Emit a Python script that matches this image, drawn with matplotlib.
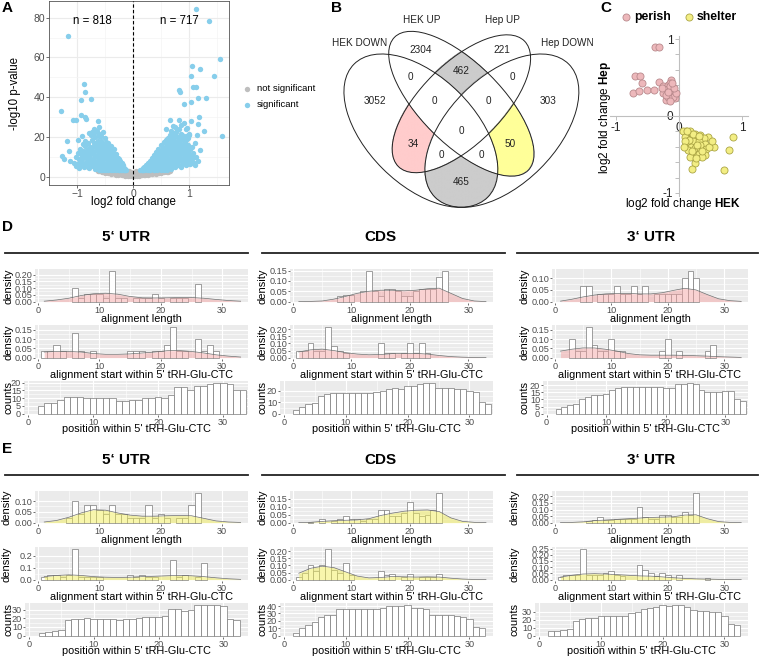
import numpy as np
import matplotlib
matplotlib.use("Agg")
import matplotlib.pyplot as plt
from matplotlib.patches import Ellipse
from matplotlib.lines import Line2D
from matplotlib.colors import to_rgba

plt.rcParams['font.family'] = ['Liberation Sans', 'DejaVu Sans']
plt.rcParams['mathtext.fontset'] = 'custom'
plt.rcParams['mathtext.rm'] = 'Liberation Sans'
plt.rcParams['mathtext.bf'] = 'Liberation Sans:bold'

# ---------------- data ----------------
# A: volcano plot (log2 fold change, -log10 p)
volcano_sig = np.array([
    (1.12, 84.3), (1.36, 78.1), (-1.17, 70.9), (1.55, 59.1), (1.05, 55.8), (1.20, 54.3),
    (1.45, 50.9), (1.03, 50.8), (-0.88, 46.6), (1.07, 45.1), (1.13, 45.1), (0.82, 43.7),
    (-0.86, 42.4), (0.83, 42.4), (1.16, 39.5), (1.30, 39.5), (-0.75, 39.2), (-0.93, 38.4),
    (1.03, 37.4), (0.90, 36.5), (-1.29, 32.8), (-0.93, 30.8), (-0.85, 30.0), (1.18, 30.0),
    (-0.84, 29.1), (-1.07, 28.3), (-1.02, 28.3), (1.04, 28.1), (0.66, 28.3), (0.81, 28.6),
    (-0.63, 27.8), (1.15, 26.6), (0.72, 25.6), (-0.69, 24.0), (0.59, 24.1), (0.96, 24.5),
    (1.26, 23.1), (-0.78, 21.9), (-0.73, 22.3), (-0.61, 20.3), (1.58, 20.6), (-0.92, 20.6),
    (0.84, 20.3), (1.14, 21.1), (0.99, 21.4), (-0.99, 18.6), (-1.18, 17.8), (-1.15, 12.7),
    (-1.27, 10.2), (-1.23, 8.9), (-1.12, 7.7), (-1.02, 5.5), (1.11, 6.0), (0.89, 15.2),
    (1.05, 10.2), (1.20, 13.6), (0.96, 9.4),
    # left cloud
    (-1.00, 6.5), (-0.97, 9.0), (-0.95, 5.5), (-0.93, 11.5), (-0.92, 7.5), (-0.90, 13.0),
    (-0.89, 9.5), (-0.87, 6.0), (-0.86, 15.5), (-0.85, 11.0), (-0.83, 8.0), (-0.82, 13.5),
    (-0.80, 17.0), (-0.80, 5.0), (-0.78, 10.0), (-0.77, 15.0), (-0.76, 7.0), (-0.74, 12.5),
    (-0.73, 18.5), (-0.72, 9.0), (-0.71, 5.5), (-0.70, 15.5), (-0.69, 11.0), (-0.68, 20.0),
    (-0.67, 7.5), (-0.66, 13.5), (-0.65, 17.5), (-0.64, 10.0), (-0.63, 4.5), (-0.62, 15.0),
    (-0.61, 21.5), (-0.60, 8.0), (-0.59, 12.0), (-0.58, 18.0), (-0.57, 5.5), (-0.56, 14.5),
    (-0.55, 10.5), (-0.54, 16.5), (-0.53, 7.0), (-0.52, 12.5), (-0.51, 19.5), (-0.50, 4.0),
    (-0.49, 9.5), (-0.48, 15.0), (-0.47, 6.0), (-0.46, 11.5), (-0.45, 17.0), (-0.44, 8.0),
    (-0.43, 13.5), (-0.42, 4.5), (-0.41, 10.0), (-0.40, 15.5), (-0.39, 6.5), (-0.38, 12.0),
    (-0.37, 8.5), (-0.36, 3.8), (-0.35, 10.5), (-0.34, 14.0), (-0.33, 6.0), (-0.32, 9.0),
    (-0.31, 4.2), (-0.30, 11.5), (-0.29, 7.0), (-0.28, 5.0), (-0.27, 9.5), (-0.26, 3.5),
    (-0.25, 6.5), (-0.24, 8.0), (-0.23, 4.5), (-0.22, 6.0), (-0.21, 3.4), (-0.20, 5.0),
    (-0.19, 7.0), (-0.18, 3.8), (-0.17, 4.6), (-0.16, 3.3), (-0.15, 4.0), (-0.13, 3.2),
    (-0.55, 3.5), (-0.45, 3.3), (-0.65, 4.5), (-0.60, 25.0), (-0.70, 22.0), (-0.75, 21.0),
    (-0.64, 23.0), (-0.57, 20.5), (-0.53, 22.5), (-0.62, 18.0), (-0.85, 18.0), (-0.90, 16.5),
    (-0.95, 14.0), (-1.02, 10.0), (-0.98, 12.0), (-1.05, 7.0),
    (-0.97, 4.5), (-0.94, 8.0), (-0.91, 10.5), (-0.88, 4.8), (-0.87, 12.0), (-0.84, 6.5),
    (-0.83, 9.5), (-0.81, 12.0), (-0.79, 7.5), (-0.78, 4.2), (-0.76, 11.5), (-0.75, 13.8),
    (-0.74, 5.8), (-0.73, 8.5), (-0.71, 12.5), (-0.70, 6.5), (-0.69, 17.0), (-0.68, 4.0),
    (-0.67, 10.5), (-0.66, 15.5), (-0.64, 7.0), (-0.63, 12.5), (-0.61, 9.5), (-0.60, 13.5),
    (-0.60, 16.5), (-0.59, 5.0), (-0.58, 10.0), (-0.57, 13.0), (-0.56, 7.5), (-0.55, 16.0),
    (-0.54, 4.5), (-0.53, 11.0), (-0.52, 9.0), (-0.51, 14.5), (-0.50, 6.5), (-0.49, 12.0),
    (-0.48, 17.5), (-0.47, 9.0), (-0.46, 4.2), (-0.45, 13.0), (-0.44, 10.5), (-0.43, 6.5),
    (-0.42, 15.0), (-0.41, 8.0), (-0.40, 11.0), (-0.39, 4.0), (-0.38, 13.5), (-0.37, 6.0),
    (-0.36, 10.0), (-0.35, 8.0), (-0.34, 5.0), (-0.33, 11.5), (-0.32, 7.0), (-0.31, 9.5),
    (-0.30, 5.5), (-0.29, 4.0), (-0.28, 8.0), (-0.27, 6.0), (-0.26, 9.0), (-0.25, 4.8),
    (-0.24, 6.0), (-0.23, 7.0), (-0.22, 4.0), (-0.21, 5.5), (-0.20, 3.5), (-0.19, 4.5),
    (-0.18, 5.8), (-0.17, 3.6), (-0.14, 3.5), (-0.52, 3.3), (-0.48, 3.4), (-0.40, 3.2),
    (-0.35, 3.1), (-0.30, 3.2), (-0.25, 3.1), (-0.60, 3.6), (-0.58, 3.2), (-0.62, 6.5),
    (-0.66, 5.5), (-0.72, 7.0),
    # right cloud
    (0.13, 3.2), (0.15, 3.6), (0.17, 4.2), (0.19, 3.4), (0.20, 5.0), (0.22, 3.8), (0.23, 6.0),
    (0.25, 4.5), (0.26, 7.0), (0.28, 3.5), (0.29, 5.5), (0.30, 8.0), (0.31, 4.0), (0.32, 6.5),
    (0.33, 9.5), (0.35, 5.0), (0.36, 7.5), (0.37, 11.0), (0.38, 3.6), (0.39, 9.0), (0.40, 6.0),
    (0.41, 12.5), (0.42, 4.5), (0.43, 8.0), (0.44, 10.5), (0.45, 14.0), (0.46, 6.5), (0.47, 12.0),
    (0.48, 3.8), (0.49, 9.5), (0.50, 16.0), (0.51, 7.5), (0.52, 13.0), (0.53, 5.0), (0.54, 11.0),
    (0.55, 17.5), (0.56, 8.5), (0.57, 14.5), (0.58, 4.0), (0.59, 10.5), (0.60, 19.0), (0.61, 6.5),
    (0.62, 13.0), (0.63, 16.5), (0.64, 9.0), (0.65, 21.0), (0.66, 4.5), (0.67, 12.0), (0.68, 18.0),
    (0.69, 7.5), (0.70, 14.5), (0.71, 22.0), (0.72, 10.0), (0.73, 5.5), (0.74, 17.0), (0.75, 12.5),
    (0.76, 20.5), (0.77, 8.0), (0.78, 15.0), (0.79, 23.5), (0.80, 6.0), (0.81, 11.0), (0.82, 18.5),
    (0.83, 14.0), (0.84, 9.0), (0.85, 21.5), (0.86, 5.5), (0.87, 16.0), (0.88, 12.0), (0.89, 19.0),
    (0.90, 7.5), (0.91, 14.5), (0.92, 10.0), (0.93, 17.0), (0.94, 6.0), (0.95, 12.5), (0.96, 15.0),
    (0.97, 8.5), (0.98, 19.5), (1.00, 11.0), (1.01, 6.5), (1.02, 14.0), (1.04, 9.0), (1.06, 12.0),
    (1.08, 7.0), (1.10, 17.0), (1.12, 10.0), (1.15, 8.0), (0.75, 25.0), (0.85, 26.0), (0.95, 24.0),
    (0.68, 23.0), (0.90, 27.0), (1.00, 21.0), (0.62, 19.5),
    (0.16, 3.1), (0.18, 3.6), (0.21, 4.2), (0.24, 3.3), (0.24, 5.2), (0.27, 4.0), (0.27, 6.2),
    (0.30, 3.4), (0.30, 5.8), (0.32, 7.8), (0.34, 4.2), (0.34, 6.0), (0.36, 9.2), (0.37, 3.3),
    (0.38, 5.5), (0.40, 7.5), (0.40, 10.5), (0.42, 3.3), (0.42, 6.5), (0.43, 12.0), (0.44, 8.5),
    (0.46, 4.5), (0.46, 10.0), (0.48, 6.5), (0.48, 12.8), (0.50, 3.4), (0.50, 8.8), (0.51, 11.0),
    (0.52, 5.5), (0.53, 14.5), (0.54, 7.5), (0.55, 3.5), (0.55, 9.5), (0.56, 12.5), (0.57, 5.8),
    (0.58, 15.5), (0.59, 8.0), (0.60, 3.6), (0.60, 11.5), (0.61, 13.5), (0.62, 4.8), (0.62, 9.0),
    (0.63, 18.0), (0.64, 6.5), (0.65, 11.5), (0.66, 14.5), (0.67, 8.5), (0.68, 4.0), (0.68, 16.0),
    (0.69, 11.0), (0.70, 6.0), (0.71, 13.0), (0.72, 19.0), (0.72, 8.0), (0.73, 15.0), (0.74, 10.5),
    (0.75, 5.0), (0.76, 13.0), (0.77, 17.5), (0.78, 9.5), (0.79, 6.5), (0.80, 12.5), (0.80, 19.5),
    (0.81, 15.5), (0.82, 8.0), (0.83, 11.0), (0.84, 17.0), (0.85, 5.0), (0.86, 12.5), (0.86, 19.0),
    (0.87, 9.0), (0.88, 14.5), (0.89, 7.0), (0.90, 16.5), (0.91, 11.5), (0.92, 8.5), (0.93, 13.0),
    (0.94, 18.5), (0.95, 9.5), (0.96, 6.5), (0.97, 12.5), (0.98, 16.0), (0.99, 9.0), (1.00, 14.5),
    (1.02, 10.5), (1.03, 7.5), (1.05, 15.0), (1.07, 9.5), (0.70, 20.5), (0.65, 17.5), (0.58, 18.5),
    (0.76, 22.5), (0.88, 21.0), (0.95, 20.5), (0.82, 24.0),
])
volcano_ns = np.array([
    (-0.62, 2.7), (-0.60, 2.6), (-0.58, 2.7), (-0.56, 2.4), (-0.52, 2.6), (-0.50, 2.0),
    (-0.48, 2.5), (-0.47, 2.7), (-0.45, 1.9), (-0.44, 2.6), (-0.41, 2.2), (-0.40, 1.5),
    (-0.38, 2.6), (-0.36, 1.8), (-0.34, 2.4), (-0.33, 1.2), (-0.31, 2.0), (-0.30, 2.6),
    (-0.30, 0.9), (-0.28, 1.5), (-0.27, 0.9), (-0.26, 2.3), (-0.24, 1.8), (-0.23, 1.1),
    (-0.22, 2.6), (-0.20, 0.7), (-0.19, 1.5), (-0.18, 2.2), (-0.16, 1.0), (-0.15, 2.5),
    (-0.14, 0.5), (-0.13, 1.7), (-0.12, 2.6), (-0.11, 1.2), (-0.10, 0.4), (-0.09, 2.0),
    (-0.08, 0.9), (-0.07, 2.6), (-0.06, 0.3), (-0.05, 1.4), (-0.04, 0.6), (-0.03, 2.2),
    (-0.02, 0.2), (-0.01, 1.0), (0.00, 0.1), (0.01, 0.8), (0.02, 2.4), (0.03, 0.3),
    (0.04, 1.5), (0.05, 0.6), (0.06, 2.6), (0.07, 0.4), (0.08, 1.2), (0.09, 2.0),
    (0.10, 0.5), (0.11, 1.6), (0.12, 2.6), (0.13, 0.8), (0.14, 2.1), (0.15, 0.6),
    (0.16, 1.4), (0.18, 2.6), (0.19, 1.0), (0.20, 1.9), (0.22, 0.9), (0.23, 2.6),
    (0.24, 1.5), (0.26, 2.2), (0.27, 1.0), (0.29, 2.6), (0.30, 1.6), (0.32, 2.0),
    (0.33, 1.3), (0.35, 2.6), (0.37, 1.8), (0.39, 2.4), (0.40, 1.5), (0.42, 2.0),
    (0.44, 2.6), (0.46, 1.8), (0.48, 2.4), (0.50, 2.0), (0.52, 2.6), (0.55, 2.2),
    (0.55, 2.7), (0.58, 2.6), (0.60, 2.3), (0.62, 2.5), (0.65, 2.6),
])
volcano_n = ["n = 818", "n = 717"]

# B: four-set Venn
venn_sets = ["HEK DOWN", "HEK UP", "Hep UP", "Hep DOWN"]
venn_counts = {
    (1, 0, 0, 0): 3052, (0, 1, 0, 0): 2304, (0, 0, 1, 0): 221, (0, 0, 0, 1): 303,
    (1, 1, 0, 0): 0, (0, 1, 1, 0): 462, (0, 0, 1, 1): 0, (1, 0, 1, 0): 34,
    (0, 1, 0, 1): 50, (1, 0, 0, 1): 465, (1, 1, 1, 0): 0, (0, 1, 1, 1): 0,
    (1, 0, 1, 1): 0, (1, 1, 0, 1): 0, (1, 1, 1, 1): 0,
}

# C: perish / shelter genes (log2 FC HEK, log2 FC Hep)
perish_hek = [-0.38, -0.32, -0.70, -0.62, -0.58, -0.73, -0.63, -0.50, -0.40, -0.32, -0.26, -0.18,
              -0.12, -0.15, -0.22, -0.17, -0.12, -0.09, -0.14, -0.06, -0.20, -0.13, -0.07, -0.25,
              -0.10, -0.17, -0.05, -0.14, -0.21, -0.08, -0.18, -0.11, -0.27, -0.15]
perish_hep = [0.90, 0.89, 0.52, 0.52, 0.43, 0.30, 0.33, 0.34, 0.34, 0.44, 0.39, 0.40,
              0.47, 0.43, 0.34, 0.35, 0.37, 0.32, 0.28, 0.27, 0.21, 0.22, 0.23, 0.30,
              0.25, 0.25, 0.30, 0.39, 0.27, 0.36, 0.31, 0.43, 0.36, 0.19]
shelter_hek = [0.11, 0.17, 0.25, 0.34, 0.46, 0.86, 0.12, 0.20, 0.28, 0.39, 0.13, 0.22, 0.31,
               0.41, 0.56, 0.13, 0.19, 0.25, 0.33, 0.43, 0.79, 0.15, 0.23, 0.32, 0.41, 0.25,
               0.21, 0.72, 0.07, 0.09, 0.16, 0.34, 0.28, 0.09, 0.47, 0.37, 0.17, 0.23, 0.31,
               0.12, 0.08, 0.36, 0.52, 0.20, 0.27]
shelter_hep = [-0.19, -0.20, -0.23, -0.25, -0.27, -0.27, -0.25, -0.27, -0.29, -0.29, -0.30, -0.33,
               -0.33, -0.36, -0.40, -0.37, -0.40, -0.42, -0.42, -0.43, -0.44, -0.44, -0.50, -0.50,
               -0.51, -0.61, -0.69, -0.70, -0.20, -0.27, -0.31, -0.38, -0.38, -0.33, -0.40, -0.53,
               -0.53, -0.23, -0.26, -0.20, -0.40, -0.46, -0.33, -0.45, -0.55]

# D/E: histograms (density per position 1..33), density curves (x = 1,3,...,33), counts
regions = ["5\u2018 UTR", "CDS", "3\u2018 UTR"]
hist_pos = np.arange(1, 34)
kde_pos = np.arange(1, 34, 2)

D_len = [
    [0, 0, 0, 0, 0, .10, .03, .06, .06, .06, .03, .23, .03, .03, 0, .03, .03, .03, .06, .03, 0, .03, .03, .03, 0, .13, 0, 0, 0, 0, 0, 0, 0],
    [0, 0, 0, 0, 0, 0, 0, .025, .03, .03, 0, .05, .15, .05, .025, .06, .06, .05, .025, .025, .05, .06, .06, .06, .12, .15, 0, 0, 0, 0, 0, 0, 0],
    [0, 0, 0, 0, .067, .067, 0, .033, .033, .033, .067, .033, .033, .067, .033, .067, 0, .033, .033, .033, .033, .033, .10, .133, .10, 0, 0, 0, 0, 0, 0, 0, 0],
]
D_start = [
    [.033, .033, .067, .033, 0, .133, .033, 0, .033, 0, 0, 0, 0, 0, .033, .033, .033, 0, .033, .033, .067, .167, .033, .033, 0, .10, .033, .067, .033, 0, 0, 0, 0],
    [.05, .05, .10, .05, .05, .22, .08, .05, .03, 0, 0, 0, 0, 0, .10, .03, .03, 0, .03, .10, .03, .10, .03, 0, 0, 0, 0, 0, 0, 0, 0, 0, 0],
    [0, 0, .10, .033, .033, .167, .067, .033, .033, .10, .033, .033, 0, 0, 0, 0, 0, 0, .033, .10, 0, .033, 0, 0, 0, 0, .033, .067, 0, 0, 0, 0, 0],
]
D_len_kde = [
    [.003, .012, .025, .045, .058, .062, .055, .038, .028, .027, .028, .030, .030, .025, .016, .008, .003],
    [0, .001, .003, .012, .025, .040, .050, .055, .055, .052, .055, .062, .065, .040, .015, .003, 0],
    [.002, .010, .020, .028, .033, .035, .035, .033, .033, .038, .048, .057, .050, .030, .012, .004, .001],
]
D_start_kde = [
    [.030, .033, .033, .030, .022, .018, .018, .020, .025, .030, .037, .038, .033, .025, .015, .008, .003],
    [.040, .055, .060, .050, .035, .025, .020, .022, .028, .030, .030, .025, .015, .007, .003, .001, 0],
    [.035, .045, .052, .052, .045, .035, .022, .015, .013, .013, .013, .012, .010, .008, .005, .003, .001],
]
D_counts = [
    [5, 7, 7, 9, 11, 11, 11, 10, 10, 10, 10, 10, 8, 8, 9, 9, 10, 10, 11, 10, 12, 17, 17, 15, 18, 18, 19, 20, 20, 19, 15, 15],
    [3, 6, 8, 9, 15, 17, 18, 18, 18, 18, 18, 18, 18, 19, 20, 21, 22, 21, 24, 24, 26, 27, 27, 22, 22, 22, 21, 21, 20, 19, 10, 8],
    [3, 5, 6, 7, 10, 12, 13, 13, 14, 17, 18, 19, 19, 19, 19, 19, 19, 19, 18, 18, 21, 21, 22, 21, 17, 15, 15, 15, 16, 16, 10, 9],
]
E_len = [
    [0, 0, 0, 0, .02, .10, .04, .08, .08, .06, .04, .08, .04, .04, .02, .02, .02, .08, .02, .04, .02, 0, .02, .02, .08, .14, 0, 0, 0, 0, 0, 0, 0],
    [0, 0, .005, 0, .02, 0, .01, .02, .04, .02, .02, .01, .02, .02, .08, .08, .04, .04, .06, .13, .06, .04, .05, .08, .19, 0, 0, 0, 0, 0, 0, 0, 0],
    [0, 0, 0, 0, 0, .01, .02, .04, .02, .02, .03, .03, .03, .03, .12, .04, .03, .03, .06, .06, .04, .04, .08, .06, .23, 0, 0, 0, 0, 0, 0, 0, 0],
]
E_start = [
    [.02, .04, .04, .02, .04, .26, .02, .02, .02, .02, 0, 0, 0, 0, .04, .02, .04, .02, .02, 0, 0, .16, .02, .04, 0, .02, .14, 0, 0, 0, 0, 0, 0],
    [.02, .05, .10, .06, .10, .22, .07, .05, .12, .03, 0, 0, 0, 0, .06, .03, .04, 0, .02, .04, 0, .02, .02, .02, .04, 0, 0, 0, 0, 0, 0, 0, 0],
    [.02, .04, .04, .04, .25, .04, .04, .04, .05, .07, .04, .03, 0, 0, .12, .08, .05, .03, .05, .04, 0, .04, 0, 0, 0, 0, .01, 0, 0, 0, 0, 0, 0],
]
E_len_kde = [
    [.003, .010, .025, .045, .060, .058, .045, .035, .030, .030, .032, .033, .032, .020, .008, .003, .001],
    [0, .002, .008, .012, .015, .017, .025, .045, .060, .072, .078, .080, .070, .030, .008, .002, 0],
    [0, .002, .006, .015, .020, .025, .030, .035, .040, .042, .045, .058, .060, .030, .008, .002, 0],
]
E_start_kde = [
    [.025, .035, .040, .035, .025, .020, .018, .020, .025, .028, .032, .035, .032, .025, .015, .007, .002],
    [.045, .080, .095, .085, .055, .025, .012, .015, .022, .020, .018, .020, .018, .010, .004, .001, 0],
    [.020, .035, .045, .048, .045, .040, .035, .030, .028, .022, .015, .010, .006, .004, .002, .001, 0],
]
E_counts = [
    [3, 4, 5, 6, 18, 19, 19, 20, 19, 19, 19, 19, 18, 19, 19, 20, 21, 22, 21, 23, 31, 31, 29, 30, 35, 36, 36, 36, 34, 19, 18],
    [4, 10, 15, 19, 25, 28, 28, 36, 36, 36, 36, 36, 36, 36, 38, 40, 40, 40, 42, 38, 38, 36, 28, 28, 28, 28, 27, 25, 22, 12, 10],
    [6, 6, 7, 8, 18, 21, 22, 22, 24, 25, 25, 25, 25, 28, 30, 34, 35, 36, 38, 37, 39, 39, 36, 32, 31, 31, 30, 30, 25, 14, 13],
]

# ---------------- figure ----------------
W, H = 760, 659
fig = plt.figure(figsize=(7.6, 6.59), dpi=100)


def px_axes(x0, y0, x1, y1):
    return fig.add_axes([x0 / W, 1 - y1 / H, (x1 - x0) / W, (y1 - y0) / H])


def px_text(x, y, s, **kw):
    kw.setdefault('ha', 'center')
    kw.setdefault('va', 'center')
    kw.setdefault('zorder', 5)
    fig.text(x / W, 1 - y / H, s, **kw)


def px_hline(x0, x1, y, **kw):
    fig.add_artist(Line2D([x0 / W, x1 / W], [1 - y / H, 1 - y / H], transform=fig.transFigure, **kw))


for lab, x, y in [('A', 2, 8), ('B', 331, 8), ('C', 600, 8), ('D', 2, 227), ('E', 2, 449)]:
    px_text(x, y, lab, ha='left', fontsize=11, fontweight='bold')

# ---- A ----
axA = px_axes(49, 1, 229, 185)
axA.scatter(volcano_ns[:, 0], volcano_ns[:, 1], s=15, color='#BEBEBE', lw=0, zorder=2,
            label='not significant')
axA.scatter(volcano_sig[:, 0], volcano_sig[:, 1], s=15, color='#87CEEB', lw=0, zorder=3,
            label='significant')
axA.axvline(0, color='black', ls=(0, (3, 2)), lw=0.8, zorder=4)
axA.set_xlim(-1.5, 1.71)
axA.set_ylim(-4.2, 88.4)
axA.set_xticks([-1, 0, 1])
axA.set_yticks([0, 20, 40, 60, 80])
axA.set_xticks([-1.5, -0.5, 0.5, 1.5], minor=True)
axA.set_yticks([10, 30, 50, 70], minor=True)
axA.grid(which='major', color='#EBEBEB', lw=0.8, zorder=0)
axA.grid(which='minor', color='#F4F4F4', lw=0.5, zorder=0)
axA.set_axisbelow(True)
axA.tick_params(which='minor', length=0)
axA.tick_params(which='major', labelsize=7.5, labelcolor='#4D4D4D', color='#333333',
                length=2, width=0.5, pad=0.8)
for sp in axA.spines.values():
    sp.set_color('#555555')
    sp.set_linewidth(0.6)
axA.text(-0.73, 78.5, volcano_n[0], ha='center', va='center', fontsize=8.3)
axA.text(0.82, 78.5, volcano_n[1], ha='center', va='center', fontsize=8.3)
px_text(15, 93, '-log10 p-value', rotation=90, fontsize=8.3)
px_text(133, 202, 'log2 fold change', fontsize=8.3)
axA.legend(loc='center left', bbox_to_anchor=(1.08, 0.48), frameon=False, fontsize=6.8,
           handlelength=0.8, handletextpad=0.6, borderpad=0, borderaxespad=0,
           labelspacing=0.7, markerscale=1.0)

# ---- B: Venn ----
venn_ellipses = [(0.35, 0.47, 0.35, 0.20, 135), (0.50, 0.57, 0.35, 0.15, 135),
                 (0.50, 0.57, 0.33, 0.15, 45), (0.65, 0.47, 0.35, 0.20, 45)]
venn_fill = {(0, 1, 1, 0): '#CCCCCC', (1, 0, 0, 1): '#CCCCCC',
             (1, 0, 1, 0): '#FFCCCC', (0, 1, 0, 1): '#FFFF99'}
venn_label_xy = {
    (1, 0, 0, 0): (0.18, 0.58), (0, 1, 0, 0): (0.35, 0.77), (0, 0, 1, 0): (0.65, 0.77),
    (0, 0, 0, 1): (0.82, 0.58), (1, 1, 0, 0): (0.31, 0.67), (0, 1, 1, 0): (0.50, 0.69),
    (0, 0, 1, 1): (0.69, 0.67), (1, 0, 1, 0): (0.32, 0.42), (0, 1, 0, 1): (0.68, 0.42),
    (1, 0, 0, 1): (0.50, 0.28), (1, 1, 1, 0): (0.40, 0.58), (0, 1, 1, 1): (0.60, 0.58),
    (1, 0, 1, 1): (0.425, 0.38), (1, 1, 0, 1): (0.575, 0.38), (1, 1, 1, 1): (0.50, 0.47),
}
set_label_xy = [(0.124, 0.796), (0.354, 0.881), (0.654, 0.881), (0.891, 0.796)]

ylo, yhi = (257.1 - 215) / 269, 257.1 / 269
axB = px_axes(326.4, 0, 596.4, 215)
axB.set_xlim(0, 1)
axB.set_ylim(ylo, yhi)
axB.axis('off')
gx, gy = np.meshgrid(np.linspace(0, 1, 700), np.linspace(ylo, yhi, 600))


def inside(cx, cy, a, b, rot):
    t = np.deg2rad(rot)
    dx, dy = gx - cx, gy - cy
    u = dx * np.cos(t) + dy * np.sin(t)
    v = -dx * np.sin(t) + dy * np.cos(t)
    return (u / a) ** 2 + (v / b) ** 2 <= 1


members = [inside(*e) for e in venn_ellipses]
img = np.zeros(gx.shape + (4,))
for key, col in venn_fill.items():
    mask = np.logical_and.reduce([members[i] == bool(k) for i, k in enumerate(key)])
    img[mask] = to_rgba(col)
axB.imshow(img, extent=[0, 1, ylo, yhi], origin='lower', aspect='auto', zorder=1)
for cx, cy, a, b, rot in venn_ellipses:
    axB.add_patch(Ellipse((cx, cy), 2 * a, 2 * b, angle=rot, fill=False, lw=0.7,
                          ec='#222222', zorder=2))
for key, n in venn_counts.items():
    x, y = venn_label_xy[key]
    axB.text(x, y, str(n), ha='center', va='center', fontsize=7.2, color='#222222', zorder=3)
for name, (x, y) in zip(venn_sets, set_label_xy):
    axB.text(x, y, name, ha='center', va='center', fontsize=7.2, color='#222222', zorder=3)

# ---- C ----
axC = px_axes(610, 36, 748, 196)
axC.scatter(perish_hek, perish_hep, s=26, color='#EDB8BB', edgecolor='#B98A8D', lw=0.6,
            label='perish', zorder=3)
axC.scatter(shelter_hek, shelter_hep, s=26, color='#F3EE84', edgecolor='#ABA544', lw=0.6,
            label='shelter', zorder=3)
axC.set_xlim(-1.095, 1.095)
axC.set_ylim(-1.039, 1.039)
for s in ['top', 'right']:
    axC.spines[s].set_visible(False)
for s in ['left', 'bottom']:
    axC.spines[s].set_position(('data', 0))
    axC.spines[s].set_color('#BFBFBF')
    axC.spines[s].set_linewidth(0.8)
axC.set_xticks([-1, 0, 1])
axC.set_yticks([-1, 0, 1])
axC.set_yticks(np.arange(-1, 1.01, 0.2), minor=True)
axC.set_xticklabels(['-1', '0', '1'])
axC.set_yticklabels(['-1', '0', '1'])
axC.tick_params(which='both', color='#BFBFBF', length=3, width=0.7, labelsize=8.5,
                labelcolor='#222222', pad=1)
axC.legend(loc='center', bbox_to_anchor=(0.49, 1.12), ncol=2, frameon=False,
           prop={'weight': 'bold', 'size': 8.8}, handletextpad=0.05, columnspacing=0.9,
           borderpad=0, handlelength=1.2)
px_text(683, 204, r'log2 fold change $\mathbf{HEK}$', fontsize=8.5)
px_text(605, 117, r'log2 fold change $\mathbf{Hep}$', rotation=90, fontsize=8.5)

# ---- D / E ----
header_cx = [126, 380, 651]
line_spans = [(5, 248), (262, 505), (517, 758)]
dens_x = [(35, 248), (290, 493), (552, 748)]
xlabels = ['alignment length', "alignment start within 5' tRH-Glu-CTC",
           "position within 5' tRH-Glu-CTC"]
xlabel_gap = [16, 16, 14]


def style_panel(ax, xlim, top, yticks, fmt):
    ax.set_facecolor('#EBEBEB')
    ax.set_xlim(*xlim)
    ax.set_ylim(-0.045 * top, 1.05 * top)
    ax.set_xticks([0, 10, 20, 30])
    ax.set_xticks([5, 15, 25], minor=True)
    ax.set_yticks(yticks)
    ax.set_yticklabels([fmt.format(v) for v in yticks])
    mids = [(a + b) / 2 for a, b in zip(yticks[:-1], yticks[1:])]
    ax.set_yticks(mids, minor=True)
    ax.grid(which='major', color='white', lw=0.8)
    ax.grid(which='minor', color='white', lw=0.4)
    ax.set_axisbelow(True)
    for sp in ax.spines.values():
        sp.set_visible(False)
    ax.tick_params(which='minor', length=0)
    ax.tick_params(which='major', length=1.5, width=0.5, color='#333333', labelsize=6.6,
                   labelcolor='#4D4D4D', pad=0.5)


def density_panel(box, heights, kde, fill, step, fmt, row, lab_px):
    (x0, x1), (y0, y1) = box
    ax = px_axes(x0, y0, x1, y1)
    h = np.array(heights)
    keep = h > 0
    ax.bar(hist_pos[keep], h[keep], width=1, color='white', edgecolor='#7A7A7A', lw=0.5, zorder=2)
    ax.fill_between(kde_pos, 0, kde, color=fill, alpha=0.5, lw=0, zorder=3)
    ax.plot(kde_pos, kde, color='#6E6E6E', lw=0.5, zorder=4)
    top = h.max()
    yt = list(np.round(np.arange(0, top + 1e-9, step), 3))
    style_panel(ax, (-0.5, 34.2), top, yt, fmt)
    px_text((x0 + x1) / 2, y1 + xlabel_gap[row], xlabels[row], fontsize=7.8)
    px_text(lab_px, (y0 + y1) / 2, 'density', rotation=90, fontsize=8)


def count_panel(box, counts, lab_px):
    (x0, x1), (y0, y1) = box
    ax = px_axes(x0, y0, x1, y1)
    c = np.array(counts)
    pos = np.arange(2, 2 + len(c))
    ax.bar(pos, c, width=1, color='white', edgecolor='#7A7A7A', lw=0.5, zorder=2)
    top = c.max()
    step = 5 if top <= 22 else 10
    yt = list(range(0, int(top) + 1, step))
    style_panel(ax, (-0.6, 33.8), top, yt, '{:.0f}')
    px_text((x0 + x1) / 2, y1 + xlabel_gap[2], xlabels[2], fontsize=7.8)
    px_text(lab_px, (y0 + y1) / 2, 'counts', rotation=90, fontsize=8)


blocks = [
    dict(hy=237, ly=253, rows=[(269, 303), (325, 359), (381, 415)], fill='#F4A6A6',
         lens=D_len, lkde=D_len_kde, starts=D_start, skde=D_start_kde, counts=D_counts,
         cnt_x=[(24, 248), (280, 493), (543, 748)], dlab=[8, 263, 525], clab=[8, 263, 525]),
    dict(hy=460, ly=475, rows=[(491, 524), (547, 581), (603, 637)], fill='#F2EE5A',
         lens=E_len, lkde=E_len_kde, starts=E_start, skde=E_start_kde, counts=E_counts,
         cnt_x=[(25, 248), (280, 493), (535, 748)], dlab=[7, 262, 515], clab=[8, 263, 515]),
]
for b in blocks:
    rows = b['rows']
    for j in range(3):
        px_text(header_cx[j], b['hy'], regions[j], fontsize=11, fontweight='bold')
        px_hline(line_spans[j][0], line_spans[j][1], b['ly'], color='#222222', lw=1.3)
        density_panel((dens_x[j], rows[0]), b['lens'][j], b['lkde'][j], b['fill'], 0.05,
                      '{:.2f}', 0, b['dlab'][j])
        top_start = max(b['starts'][j])
        step = 0.1 if top_start > 0.255 else 0.05
        fmt = '{:.1f}' if step == 0.1 else '{:.2f}'
        density_panel((dens_x[j], rows[1]), b['starts'][j], b['skde'][j], b['fill'], step, fmt,
                      1, b['dlab'][j])
        count_panel((b['cnt_x'][j], rows[2]), b['counts'][j], b['clab'][j])

fig.savefig('out.png', dpi=100)
